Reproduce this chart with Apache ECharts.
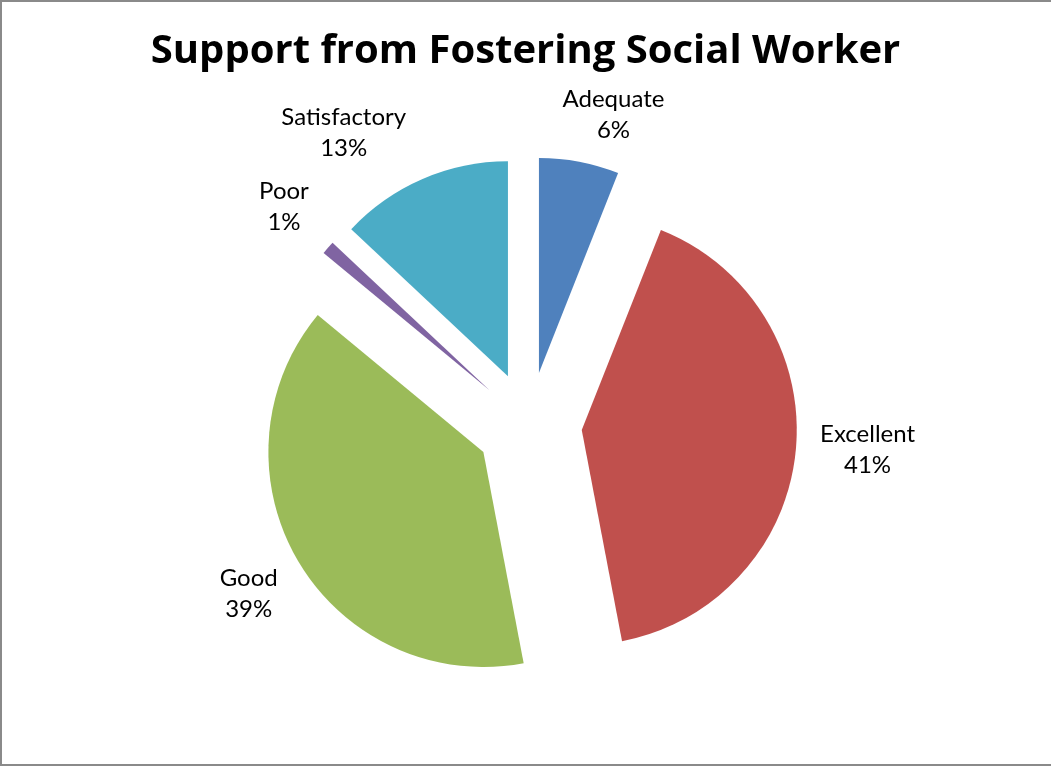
<!DOCTYPE html>
<html>
<head>
<meta charset="utf-8">
<title>Support from Fostering Social Worker</title>
<script src="https://cdn.jsdelivr.net/npm/echarts@6/dist/echarts.min.js"></script>
<style>
  html, body { margin: 0; padding: 0; background: #ffffff; }
  #chart { width: 1051px; height: 767px; }
</style>
</head>
<body>
<div id="chart"></div>
<script>
// Ratings, in clockwise order starting from 12 o'clock
const categories = ['Adequate', 'Excellent', 'Good', 'Poor', 'Satisfactory'];
const percentages = [6, 41, 39, 1, 13];
const sliceColors = ['#4F81BD', '#C0504D', '#9BBB59', '#8064A2', '#4BACC6'];

// Small hand adjustments so the labels sit clear of the title and slices
const labelNudge = {
  Adequate: [23, 12],
  Excellent: [12, -6],
  Good: [2, 2],
  Poor: [1, -1],
  Satisfactory: [-55, 9]
};

const pieCenter = [529, 425];

const sliceData = categories.map((name, i) => ({
  name: name,
  value: percentages[i],
  selected: true,
  itemStyle: { color: sliceColors[i] }
}));

const labelData = categories.map((name, i) => ({
  name: name,
  value: percentages[i]
}));

const chart = echarts.init(document.getElementById('chart'), null, { renderer: 'canvas' });

chart.setOption({
  animation: false,
  backgroundColor: '#ffffff',
  title: {
    text: 'Support from Fostering Social Worker',
    left: 'center',
    top: 27,
    textStyle: {
      fontFamily: 'Open Sans',
      fontWeight: 'bold',
      fontSize: 40,
      color: '#000000'
    }
  },
  graphic: [{
    type: 'rect',
    silent: true,
    shape: { x: 1, y: 1, width: 1100, height: 764 },
    style: { fill: 'none', stroke: '#8a8a8a', lineWidth: 2 }
  }],
  series: [
    {
      // the exploded slices
      type: 'pie',
      center: pieCenter,
      radius: [0, 215],
      startAngle: 90,
      clockwise: true,
      selectedMode: 'multiple',
      selectedOffset: 53,
      avoidLabelOverlap: false,
      label: { show: false },
      labelLine: { show: false },
      emphasis: { disabled: true },
      itemStyle: { borderWidth: 0 },
      data: sliceData
    },
    {
      // transparent ring that carries the category / percentage labels
      type: 'pie',
      silent: true,
      center: pieCenter,
      radius: [315, 335],
      startAngle: 90,
      clockwise: true,
      avoidLabelOverlap: false,
      itemStyle: { color: 'rgba(0,0,0,0)', borderWidth: 0 },
      emphasis: { disabled: true },
      labelLine: { show: false },
      label: {
        show: true,
        position: 'inside',
        formatter: '{c|{b}}\n{c|{d}%}',
        color: '#000000',
        fontFamily: 'Lato',
        fontSize: 24,
        lineHeight: 31,
        rich: {
          c: {
            align: 'center',
            color: '#000000',
            fontFamily: 'Lato',
            fontSize: 24,
            lineHeight: 31
          }
        }
      },
      labelLayout: function (params) {
        const name = categories[params.dataIndex];
        const n = labelNudge[name] || [0, 0];
        return { dx: n[0], dy: n[1] };
      },
      data: labelData
    }
  ]
});
</script>
</body>
</html>
